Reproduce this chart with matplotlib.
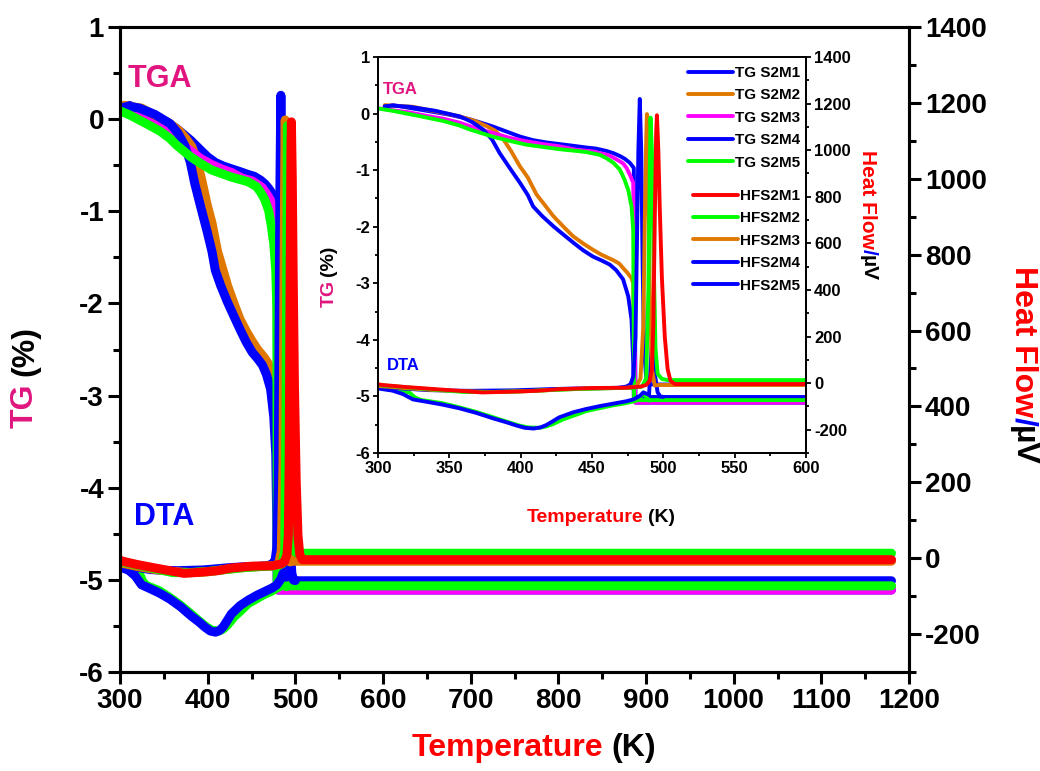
import matplotlib
matplotlib.use('Agg')
import matplotlib.pyplot as plt
from matplotlib.ticker import MultipleLocator

plt.rcParams['font.family'] = ['Liberation Sans', 'DejaVu Sans']
plt.rcParams['font.weight'] = 'bold'
plt.rcParams['axes.unicode_minus'] = False

NARROW = ['Liberation Sans Narrow', 'Liberation Sans', 'DejaVu Sans']

BLUE = '#0000FF'
ORANGE = '#E07800'
MAGENTA = '#FF00FF'
GREEN = '#00FF00'
RED = '#FF0000'
PINK = '#E0157F'

# ---- TG curves (%), temperature in K ----
t_s2m1 = [304.7, 310.5, 322, 334, 350, 364.3, 372, 380.7, 392.4, 400, 408.7, 418, 427.4, 437, 446, 453,
          460, 465, 469.5, 473, 476.5, 479.3, 480.0, 480.5, 1180]
tg_s2m1 = [0.12, 0.15, 0.10, 0.05, -0.02, -0.10, -0.16, -0.23, -0.34, -0.41, -0.47, -0.51, -0.54, -0.57,
           -0.60, -0.62, -0.66, -0.70, -0.75, -0.80, -0.87, -0.96, -3.0, -5.11, -5.11]

t_s2m2 = [304.7, 310, 324.5, 340, 357.3, 368, 376, 382, 387.7, 393, 399.4, 405, 411.1, 417, 422.8, 430,
          436.8, 444, 450.8, 457, 464.8, 469, 471.8, 475, 477.7, 478.9, 479.5, 1180]
tg_s2m2 = [0.15, 0.14, 0.12, 0.04, -0.05, -0.13, -0.22, -0.30, -0.45, -0.65, -0.93, -1.13, -1.43, -1.62,
           -1.81, -2.00, -2.17, -2.30, -2.41, -2.50, -2.59, -2.65, -2.73, -2.82, -2.91, -3.0, -5.07, -5.07]

t_s2m3 = [301.2, 310, 322, 334, 345.6, 357, 364.3, 376, 392.4, 404, 415.7, 427.4, 439.1, 450.8, 455.5,
          462, 467.2, 471.8, 474.2, 476.5, 478.9, 479.8, 480.3, 1180]
tg_s2m3 = [0.09, 0.06, 0.02, -0.04, -0.09, -0.16, -0.22, -0.31, -0.43, -0.49, -0.54, -0.58, -0.64, -0.67,
           -0.70, -0.74, -0.81, -0.88, -0.96, -1.08, -1.22, -3.0, -5.11, -5.11]

t_s2m4 = [304.7, 310, 322, 340, 357.3, 366, 373.6, 380, 385.3, 392, 399.4, 405, 408.7, 415, 422.8, 430,
          436.8, 444, 450.8, 457, 462.5, 467, 471.8, 475.4, 477.7, 478.9, 479.3, 1180]
tg_s2m4 = [0.13, 0.14, 0.12, 0.05, -0.05, -0.15, -0.28, -0.46, -0.70, -0.95, -1.22, -1.44, -1.64, -1.81,
           -1.99, -2.14, -2.28, -2.42, -2.53, -2.60, -2.67, -2.77, -2.93, -3.23, -3.64, -4.41, -5.01, -5.01]

t_s2m5 = [300, 310, 322.2, 334, 345.6, 357, 364.3, 380.7, 392, 404, 415.7, 427.4, 439, 446.1, 455.5,
          460.2, 465, 469.5, 472.5, 475.4, 477.7, 478.9, 479.5, 1180]
tg_s2m5 = [0.09, 0.05, -0.01, -0.07, -0.13, -0.21, -0.28, -0.41, -0.48, -0.55, -0.59, -0.63, -0.66, -0.68,
           -0.73, -0.79, -0.87, -0.99, -1.15, -1.35, -1.64, -2.05, -5.065, -5.065]

# ---- heat flow curves (uV) ----
t_hf1 = [300, 303, 320, 345, 373, 392, 411, 427, 451, 474, 484, 488, 490.5, 492, 493, 494, 495, 495.5,
         496.5, 497.5, 499, 501, 503, 505, 508, 1180]
hf1 = [-5, -8, -17, -28, -40, -37, -33, -26, -21, -20, -15, -8, 10, 60, 250, 700, 1080, 1150,
       1000, 750, 450, 200, 60, 10, -4, -4]

t_hf2 = [300, 320, 340, 360, 380, 400, 420, 440, 460, 478, 485, 488, 489.5, 490.5, 491, 492, 493, 494.5,
         496, 499, 503, 1180]
hf2 = [-8, -18, -28, -38, -38, -35, -30, -25, -22, -20, -15, 20, 400, 900, 1140, 1000, 600, 150,
       40, 18, 13, 13]

t_hf3 = [300, 320, 340, 360, 380, 400, 420, 440, 460, 475, 481, 484, 486, 487, 488, 488.5, 489.5, 490.5,
         492, 494, 497, 1180]
hf3 = [-12, -22, -30, -35, -38, -36, -30, -25, -22, -20, -15, 20, 250, 700, 1050, 1155, 900, 400,
       60, -10, -8, -8]

t_hf4 = [300, 310, 322, 335, 350, 365, 380, 395, 410, 425, 440, 455, 468, 474, 477, 479, 480.5, 481.5,
         482.5, 483.5, 484.5, 485.5, 486.5, 488, 490, 495, 1180]
hf4 = [-15, -20, -25, -30, -32, -33, -32, -31, -28, -25, -23, -22, -20, -15, -5, 30, 200, 600,
       1000, 1220, 1000, 500, 150, 20, -5, -6, -6]

t_hf5 = [300, 310, 317.5, 324.5, 334, 345, 357, 369, 381, 390, 397, 403, 409, 414, 418, 423, 427, 437,
         446, 456, 465, 474, 479, 483.5, 486, 490, 492, 494, 496, 498, 500]
hf5 = [-23, -32, -47, -70, -80, -92, -108, -128, -152, -168, -182, -192, -195, -190, -180, -162, -147,
       -125, -111, -98, -88, -78, -70, -55, -40, -50, 180, 40, -40, -58, -59]

# second dip trace (green) shown without legend entry
t_dip = [300, 310, 322, 326, 330, 345, 357, 369, 381, 390, 399, 405, 413, 418, 423, 430, 437, 446, 455,
         465, 472, 478, 481, 484, 486, 488, 490]
hf_dip = [-20, -28, -40, -62, -72, -86, -104, -124, -147, -165, -182, -190, -192, -186, -175, -155, -140,
          -120, -108, -95, -88, -80, -76, -60, -40, -60, -75]

tg_series = [
    (t_s2m1, tg_s2m1, BLUE, 'TG S2M1'),
    (t_s2m2, tg_s2m2, ORANGE, 'TG S2M2'),
    (t_s2m3, tg_s2m3, MAGENTA, 'TG S2M3'),
    (t_s2m4, tg_s2m4, BLUE, 'TG S2M4'),
    (t_s2m5, tg_s2m5, GREEN, 'TG S2M5'),
]
# drawing order (bottom to top)
hf_series = [
    (t_dip, hf_dip, GREEN, '_nolegend_'),
    (t_hf5, hf5, BLUE, 'HFS2M5'),
    (t_hf4, hf4, BLUE, 'HFS2M4'),
    (t_hf3, hf3, ORANGE, 'HFS2M3'),
    (t_hf2, hf2, GREEN, 'HFS2M2'),
    (t_hf1, hf1, RED, 'HFS2M1'),
]

W, H = 1040, 771
fig = plt.figure(figsize=(W / 100, H / 100), dpi=100)


def box(x0, y0, x1, y1):
    return [x0 / W, 1 - y1 / H, (x1 - x0) / W, (y1 - y0) / H]


ax = fig.add_axes(box(120, 27, 909, 672))
ax2 = ax.twinx()
axi = fig.add_axes(box(378, 57, 806, 453))
axi2 = axi.twinx()


def draw(a, a2, lw):
    hs = {}
    for t, y, c, lab in tg_series:
        hs[lab], = a.plot(t, y, color=c, lw=lw, label=lab, solid_capstyle='round', solid_joinstyle='round')
    for t, y, c, lab in hf_series:
        l, = a2.plot(t, y, color=c, lw=lw, label=lab, solid_capstyle='round', solid_joinstyle='round')
        hs[lab] = l
    return hs


draw(ax, ax2, 6.5)
hs = draw(axi, axi2, 2.8)

# main axes
ax.set_xlim(300, 1200)
ax.set_ylim(-6, 1)
ax2.set_ylim(-300, 1400)
ax.xaxis.set_major_locator(MultipleLocator(100))
ax.xaxis.set_minor_locator(MultipleLocator(50))
ax.yaxis.set_major_locator(MultipleLocator(1))
ax.yaxis.set_minor_locator(MultipleLocator(0.5))
ax2.yaxis.set_major_locator(MultipleLocator(200))
ax2.yaxis.set_minor_locator(MultipleLocator(100))
for a in (ax, ax2):
    for s in a.spines.values():
        s.set_linewidth(2.2)
    a.tick_params(which='major', direction='out', length=8.5, width=2.2, labelsize=20, pad=3)
    a.tick_params(which='minor', direction='out', length=5, width=2.2)
ax.tick_params(which='both', top=False, right=False)

# inset axes
axi.set_facecolor('white')
axi.set_xlim(300, 600)
axi.set_ylim(-6, 1)
axi2.set_ylim(-300, 1400)
axi.xaxis.set_major_locator(MultipleLocator(50))
axi.xaxis.set_minor_locator(MultipleLocator(25))
axi.yaxis.set_major_locator(MultipleLocator(1))
axi.yaxis.set_minor_locator(MultipleLocator(0.5))
axi2.yaxis.set_major_locator(MultipleLocator(200))
axi2.yaxis.set_minor_locator(MultipleLocator(100))
for a in (axi, axi2):
    for s in a.spines.values():
        s.set_linewidth(1.3)
    a.tick_params(which='major', direction='out', length=3.8, width=1.3, labelsize=12, pad=2,
                  labelfontfamily=NARROW)
    a.tick_params(which='minor', direction='out', length=2.2, width=1.3)
axi.tick_params(which='both', top=False, right=False)

# legends in the inset
tg_labels = ['TG S2M1', 'TG S2M2', 'TG S2M3', 'TG S2M4', 'TG S2M5']
hf_labels = ['HFS2M1', 'HFS2M2', 'HFS2M3', 'HFS2M4', 'HFS2M5']
lprop = {'family': NARROW, 'weight': 'bold', 'size': 11}
leg1 = axi2.legend([hs[k] for k in tg_labels], tg_labels, loc='upper right',
                   bbox_to_anchor=(800 / W, 1 - 66 / H), bbox_transform=fig.transFigure,
                   frameon=False, prop=lprop, handlelength=2.9, handletextpad=0.15,
                   labelspacing=0.55, borderpad=0, borderaxespad=0)
axi2.add_artist(leg1)
axi2.legend([hs[k] for k in hf_labels], hf_labels, loc='upper right',
            bbox_to_anchor=(800 / W, 1 - 189 / H), bbox_transform=fig.transFigure,
            frameon=False, prop=lprop, handlelength=2.9, handletextpad=0.15,
            labelspacing=0.55, borderpad=0, borderaxespad=0)


def colored_text(x, y, parts, rotation=0, size=20, family=None):
    # x, y: figure pixels from top-left; start of the text run
    r = fig.canvas.get_renderer()
    for s, c, gap in parts:
        if rotation == 0:
            x += gap
        elif rotation == 90:
            y -= gap
        else:
            y += gap
        kw = dict(color=c, rotation=rotation, rotation_mode='anchor', ha='left', va='center',
                  fontsize=size, fontweight='bold')
        if family:
            kw['family'] = family
        t = fig.text(x / W, 1 - y / H, s, **kw)
        bb = t.get_window_extent(renderer=r)
        if rotation == 0:
            x += bb.width
        elif rotation == 90:
            y -= bb.height
        else:
            y += bb.height


# main labels
colored_text(25, 428, [('TG', PINK, 0), ('(%)', 'black', 8)], rotation=90, size=23)
colored_text(1023, 266, [('Heat Flow', RED, 0), ('/', BLUE, 0), ('µV', 'black', 0)], rotation=270, size=23)
colored_text(412, 748, [('Temperature', RED, 0), ('(K)', 'black', 8)], size=23)

# inset labels
colored_text(329, 307, [('TG', PINK, 0), ('(%)', 'black', 4)], rotation=90, size=14, family=NARROW)
colored_text(868, 150, [('Heat Flow', RED, 0), ('/', BLUE, 0), ('µV', 'black', 0)], rotation=270, size=15,
             family=NARROW)
colored_text(527, 517, [('Temperature', RED, 0), ('(K)', 'black', 4)], size=14, family=NARROW)

fig.text(160 / W, 1 - 79 / H, 'TGA', color=PINK, fontsize=22, fontweight='bold', ha='center', va='center')
fig.text(164 / W, 1 - 517 / H, 'DTA', color=BLUE, fontsize=22, fontweight='bold', ha='center', va='center')
fig.text(400 / W, 1 - 90 / H, 'TGA', color=PINK, fontsize=12, fontweight='bold', ha='center', va='center',
         family=NARROW)
fig.text(403 / W, 1 - 365 / H, 'DTA', color=BLUE, fontsize=12, fontweight='bold', ha='center', va='center',
         family=NARROW)

fig.savefig('out.png', dpi=100)
